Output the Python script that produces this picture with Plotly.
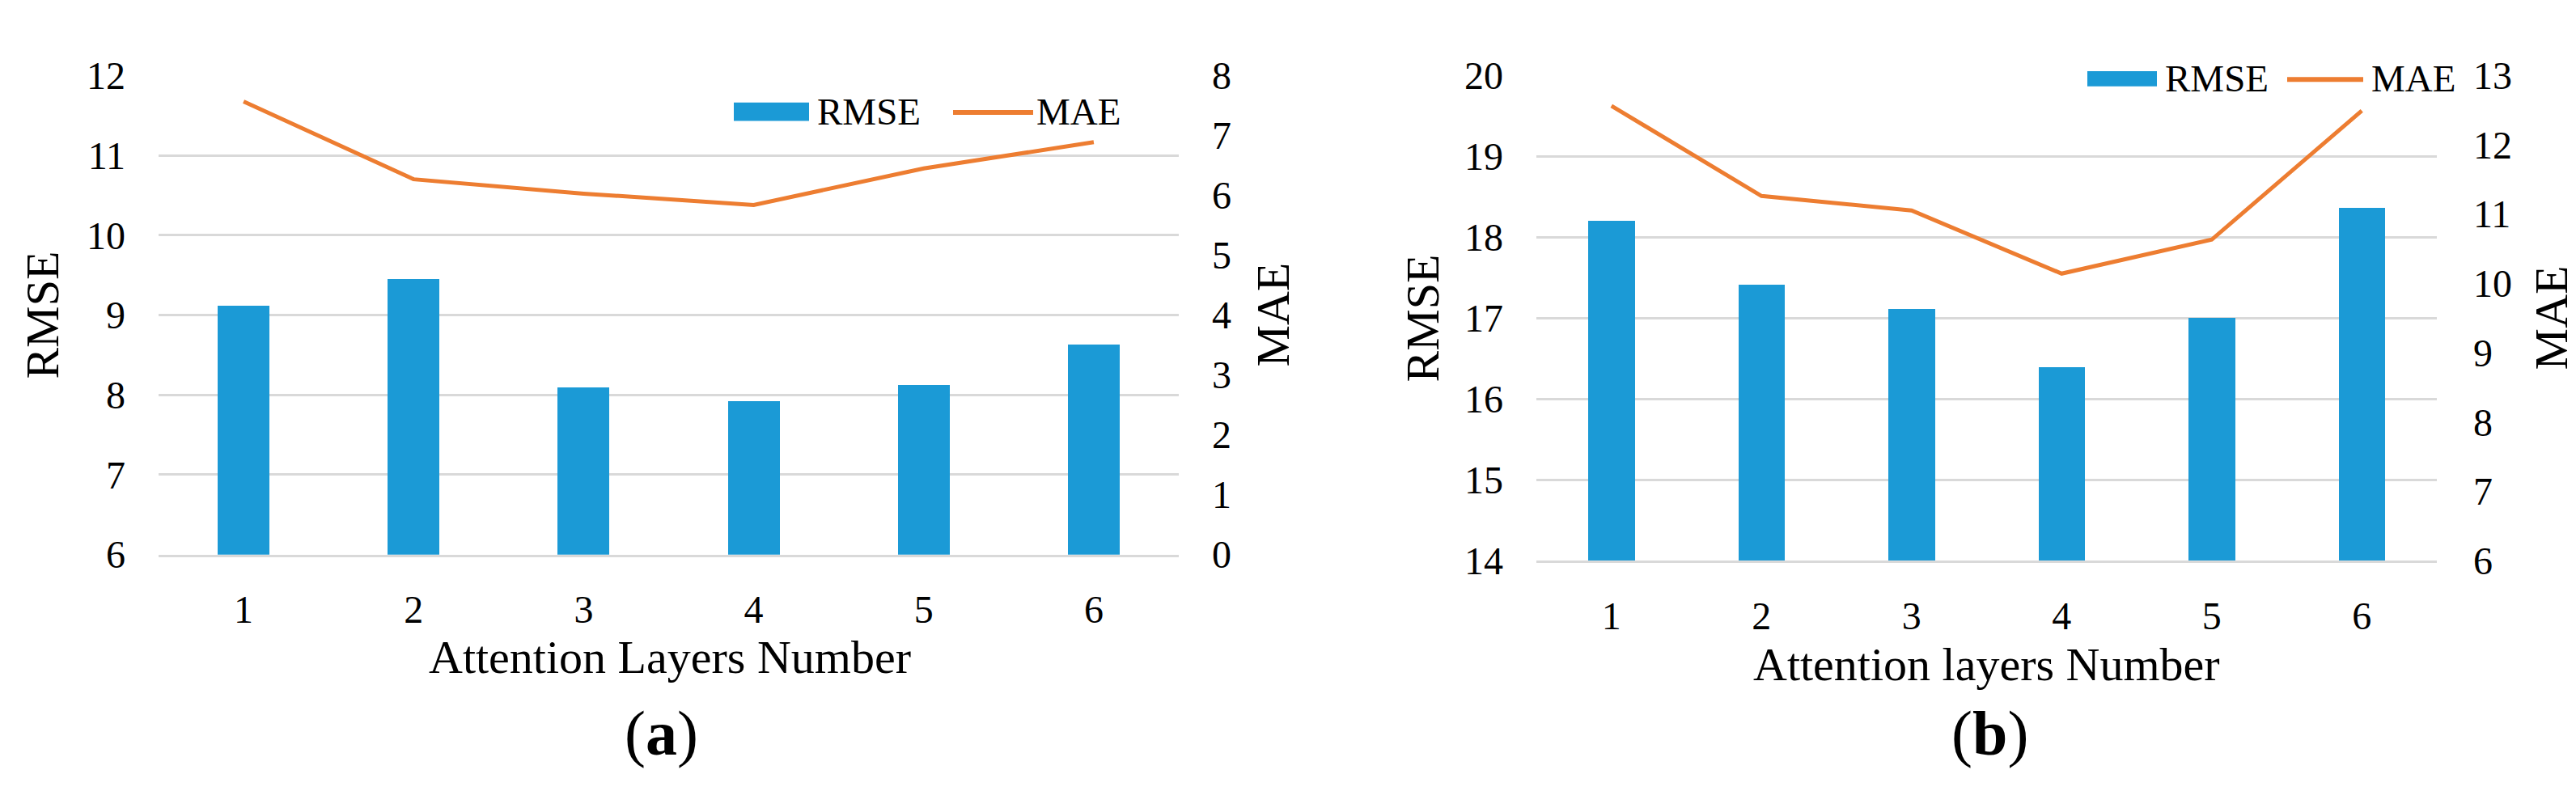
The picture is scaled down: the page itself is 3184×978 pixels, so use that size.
import plotly.graph_objects as go

# ---------------- data ----------------
layers = [1, 2, 3, 4, 5, 6]
tick_labels = ["1", "2", "3", "4", "5", "6"]

rmse_a = [9.12, 9.46, 8.10, 7.93, 8.13, 8.64]
mae_a = [7.57, 6.27, 6.03, 5.84, 6.45, 6.89]

rmse_b = [18.20, 17.41, 17.11, 16.39, 17.00, 18.36]
mae_b = [12.56, 11.26, 11.05, 10.14, 10.63, 12.49]

rmse_ticks_a = [6, 7, 8, 9, 10, 11, 12]
mae_ticks_a = [0, 1, 2, 3, 4, 5, 6, 7, 8]
rmse_ticks_b = [14, 15, 16, 17, 18, 19, 20]
mae_ticks_b = [6, 7, 8, 9, 10, 11, 12, 13]

xtitle_a = "Attention Layers Number"
xtitle_b = "Attention layers Number"
ytitle_left = "RMSE"
ytitle_right = "MAE"
series_names = ["RMSE", "MAE"]
panel_labels = ["(<b>a</b>)", "(<b>b</b>)"]

# ---------------- style ----------------
W, H = 3184, 978
BLUE = "#1B9AD6"
ORANGE = "#ED7D31"
GRID = "#D9D9D9"
FONT = "Liberation Serif"
TICK_SIZE = 48
TITLE_SIZE = 58
LEG_SIZE = 47


def px(x):
    return x / W


def py(y):
    return 1 - y / H


fig = go.Figure()

fig.add_trace(go.Bar(x=layers, y=rmse_a, name=series_names[0], width=0.305,
                     marker=dict(color=BLUE, line=dict(width=0)),
                     xaxis="x", yaxis="y", showlegend=False))
fig.add_trace(go.Scatter(x=layers, y=mae_a, name=series_names[1], mode="lines",
                         line=dict(color=ORANGE, width=5),
                         xaxis="x", yaxis="y2", showlegend=False))
fig.add_trace(go.Bar(x=layers, y=rmse_b, name=series_names[0], width=0.31,
                     marker=dict(color=BLUE, line=dict(width=0)),
                     xaxis="x2", yaxis="y3", showlegend=False))
fig.add_trace(go.Scatter(x=layers, y=mae_b, name=series_names[1], mode="lines",
                         line=dict(color=ORANGE, width=5),
                         xaxis="x2", yaxis="y4", showlegend=False))

xcommon = dict(range=[0.5, 6.5], tickmode="array", tickvals=layers, ticktext=tick_labels,
               showgrid=False, zeroline=False, showline=True, linecolor=GRID, linewidth=3,
               ticks="", ticklabelstandoff=24, tickfont=dict(size=TICK_SIZE, color="black"),
               fixedrange=True)
ycommon = dict(showgrid=True, gridcolor=GRID, gridwidth=3, zeroline=False, showline=False,
               ticks="", ticklabelstandoff=40, tickfont=dict(size=TICK_SIZE, color="black"),
               tickmode="array", fixedrange=True)

xa_dom = [px(188), px(1449)]
xb_dom = [px(1891), px(3004)]
ya_dom = [py(689), py(63)]
yb_dom = [py(697), py(62.5)]

fig.update_layout(
    width=W, height=H,
    margin=dict(l=0, r=0, t=0, b=0),
    paper_bgcolor="white", plot_bgcolor="white",
    font=dict(family=FONT, color="black"),
    showlegend=False,
    bargap=0,
    xaxis=dict(domain=xa_dom, anchor="y", **xcommon),
    yaxis=dict(domain=ya_dom, anchor="x", range=[rmse_ticks_a[0], rmse_ticks_a[-1]],
               tickvals=rmse_ticks_a, **ycommon),
    yaxis2=dict(overlaying="y", side="right", anchor="x", range=[mae_ticks_a[0], mae_ticks_a[-1]],
                tickvals=mae_ticks_a, showgrid=False, zeroline=False, showline=False, ticks="",
                ticklabelstandoff=40, tickfont=dict(size=TICK_SIZE, color="black"),
                tickmode="array", fixedrange=True),
    xaxis2=dict(domain=xb_dom, anchor="y3", **xcommon),
    yaxis3=dict(domain=yb_dom, anchor="x2", range=[rmse_ticks_b[0], rmse_ticks_b[-1]],
                tickvals=rmse_ticks_b, **ycommon),
    yaxis4=dict(overlaying="y3", side="right", anchor="x2", range=[mae_ticks_b[0], mae_ticks_b[-1]],
                tickvals=mae_ticks_b, showgrid=False, zeroline=False, showline=False, ticks="",
                ticklabelstandoff=44, tickfont=dict(size=TICK_SIZE, color="black"),
                tickmode="array", fixedrange=True),
)

annotations = []
shapes = []


def text(x, y, s, size, angle=0, xanchor="center", yanchor="middle"):
    annotations.append(dict(x=px(x), y=py(y), xref="paper", yref="paper", text=s,
                            showarrow=False, textangle=angle, xanchor=xanchor, yanchor=yanchor,
                            font=dict(family=FONT, size=size, color="black")))


# axis titles
text(45, 376, ytitle_left, TITLE_SIZE, angle=-90)
text(1566, 376, ytitle_right, TITLE_SIZE, angle=-90)
text(1750, 380, ytitle_left, TITLE_SIZE, angle=-90)
text(3145, 380, ytitle_right, TITLE_SIZE, angle=-90)
text(820, 823, xtitle_a, TITLE_SIZE)
text(2447, 833, xtitle_b, TITLE_SIZE)
text(810, 922, panel_labels[0], 78)
text(2451, 922, panel_labels[1], 78)


# legends (drawn as keys + text)
def legend(x_rect, y_mid, rect_w, rect_h, x_text1, x_line, line_w, x_text2):
    shapes.append(dict(type="rect", xref="paper", yref="paper",
                       x0=px(x_rect), x1=px(x_rect + rect_w),
                       y0=py(y_mid + rect_h / 2), y1=py(y_mid - rect_h / 2),
                       fillcolor=BLUE, line=dict(width=0), layer="above"))
    shapes.append(dict(type="line", xref="paper", yref="paper",
                       x0=px(x_line), x1=px(x_line + line_w), y0=py(y_mid + 1), y1=py(y_mid + 1),
                       line=dict(color=ORANGE, width=6), layer="above"))
    text(x_text1, y_mid, series_names[0], LEG_SIZE, xanchor="left")
    text(x_text2, y_mid, series_names[1], LEG_SIZE, xanchor="left")


legend(899, 110, 93, 24, 1000, 1170, 99, 1271)
legend(2572, 67, 86, 20, 2666, 2819, 94, 2921)

fig.update_layout(annotations=annotations, shapes=shapes)

fig.write_html("out.html")
